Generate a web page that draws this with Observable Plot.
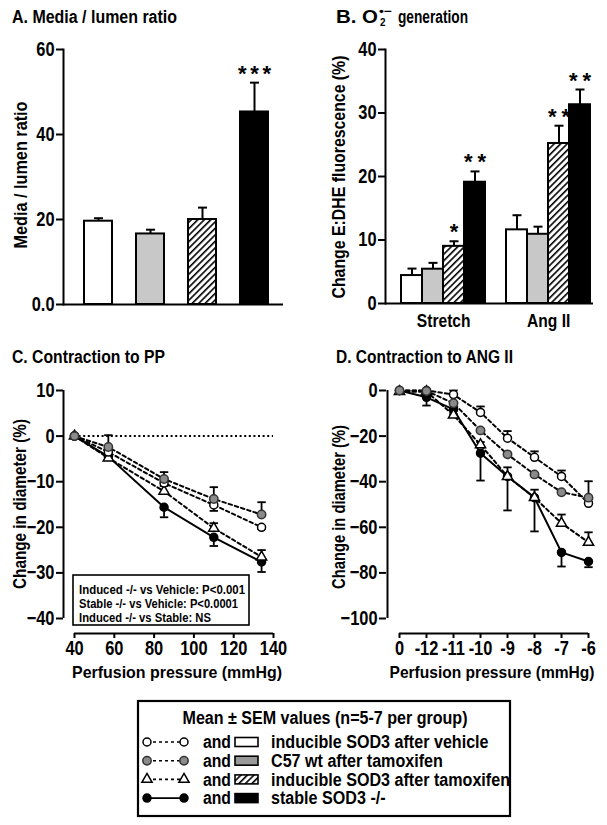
<!DOCTYPE html>
<html><head><meta charset="utf-8">
<script src="https://cdn.jsdelivr.net/npm/d3@7"></script>
<script src="https://cdn.jsdelivr.net/npm/@observablehq/plot@0.6"></script>
<style>
body{margin:0;background:#fff;}
#wrap{position:relative;width:607px;height:825px;overflow:hidden;font-family:"Liberation Sans",Arial,sans-serif;font-weight:bold;color:#000;}
</style>
</head><body>
<div id="wrap">
<svg width="0" height="0" style="position:absolute">
 <defs>
  <pattern id="hatch" patternUnits="userSpaceOnUse" width="4.6" height="4.6" patternTransform="rotate(45)">
   <rect width="4.6" height="4.6" fill="#fff"/>
   <line x1="0" y1="0" x2="0" y2="4.6" stroke="#000" stroke-width="3.2"/>
  </pattern>
 </defs>
</svg>
</div>
<script>
// ---------- data ----------
const groupKeys = ["vehicle", "wt", "induced", "stable"];
const groupLabels = ["inducible SOD3 after vehicle", "C57 wt after tamoxifen", "inducible SOD3 after tamoxifen", "stable SOD3 -/-"];
const legendTitle = "Mean \u00b1 SEM values (n=5-7 per group)";
const statsLines = ["Induced -/- vs Vehicle: P<0.001", "Stable -/- vs Vehicle: P<0.0001", "Induced -/- vs Stable: NS"];

// Panel A: media / lumen ratio
const mlMean = [19.6, 16.6, 20.0, 45.3];
const mlSem = [0.7, 1.0, 2.8, 6.9];
const mlStars = ["", "", "", "***"];
const mlTicks = [0, 20, 40, 60];

// Panel B: O2- generation
const o2Stimuli = ["Stretch", "Ang II"];
const o2StretchMean = [4.4, 5.4, 9.0, 19.1];
const o2StretchSem = [1.1, 1.0, 0.8, 1.7];
const o2StretchStars = ["", "", "*", "**"];
const o2AngMean = [11.6, 10.9, 25.2, 31.3];
const o2AngSem = [2.3, 1.2, 2.8, 2.4];
const o2AngStars = ["", "", "**", "**"];
const o2Ticks = [0, 10, 20, 30, 40];

// Panel C: contraction to perfusion pressure
const pp = [40, 57, 85, 110, 134];
const ppVehicle = [0, -3.5, -10.3, -15.1, -20.0];
const ppVehicleSem = [0, 0.5, 0.6, 1.3, 0.4];
const ppWt = [0, -2.4, -9.4, -13.8, -17.2];
const ppWtSem = [0, 2.6, 1.5, 2.6, 2.7];
const ppInduced = [0, -4.8, -12.1, -20.2, -26.5];
const ppInducedSem = [0, 0.5, 1.2, 1.1, 1.5];
const ppStable = [0, -4.5, -15.6, -22.2, -27.6];
const ppStableSem = [0, 0.5, 2.2, 1.9, 2.2];
const ppTicksX = [40, 60, 80, 100, 120, 140];
const ppTicksY = [10, 0, -10, -20, -30, -40];

// Panel D: contraction to Ang II
const angDoses = ["0", "-12", "-11", "-10", "-9", "-8", "-7", "-6"];
const angVehicle = [0, 0, -1.8, -9.6, -20.9, -29.3, -37.7, -49.5];
const angVehicleSem = [0, 0, 1.8, 2.6, 3.1, 2.6, 2.6, 0.5];
const angWt = [0, -0.2, -5.6, -17.5, -28.0, -36.8, -44.6, -47.0];
const angWtSem = [0, 0, 0.5, 0.5, 0.5, 0.5, 0.5, 7.2];
const angInduced = [-0.5, -0.5, -10.8, -23.8, -37.7, -47.0, -58.2, -66.6];
const angInducedSem = [0, 0, 0.5, 1.2, 4.0, 3.5, 3.8, 4.4];
const angStable = [0, -3.0, -8.3, -27.5, -37.7, -47.0, -71.0, -75.0];
const angStableSem = [0, 3.6, 0.5, 12.0, 14.9, 14.8, 6.2, 2.5];
const angTicksY = [0, -20, -40, -60, -80, -100];

// ---------- styles ----------
const FONT = '"Liberation Sans",Arial,sans-serif';
const barFill = {vehicle: "#ffffff", wt: "#c8c8c8", induced: "url(#hatch)", stable: "#000000"};
const swatchFill = {vehicle: "#ffffff", wt: "#999999", induced: "url(#hatch)", stable: "#000000"};
const dotFill = {vehicle: "#ffffff", wt: "#8a8a8a", induced: "#ffffff", stable: "#000000"};
const dotStroke = {vehicle: "#000", wt: "#333", induced: "#000", stable: "#000"};
const dotSymbol = {vehicle: "circle", wt: "circle", induced: "triangle", stable: "circle"};
const dotR = {vehicle: 4, wt: 4.2, induced: 3.8, stable: 4};
const dashed = {vehicle: "3.5,3", wt: "3.5,3", induced: "3.5,3", stable: null};
const drawOrder = ["stable", "induced", "vehicle", "wt"];
const capSymbol = {draw(ctx, size) { const w = Math.sqrt(size / Math.PI); ctx.moveTo(-w, 0); ctx.lineTo(w, 0); }};

function rootStyle() {
  return {fontFamily: FONT, fontWeight: "bold", fontSize: "20px", color: "#000", background: "transparent", overflow: "visible"};
}
const wrap = document.getElementById("wrap");
function condense(svg, factor) {
  svg.querySelectorAll("text").forEach(t => {
    const s = t.textContent;
    if (!s) return;
    if (/^\*+$/.test(s)) {
      t.setAttribute("textLength", s.length * 11); t.setAttribute("lengthAdjust", "spacing"); return;
    }
    const w = t.getComputedTextLength();
    t.setAttribute("textLength", w * factor); t.setAttribute("lengthAdjust", "spacingAndGlyphs");
  });
}
function place(svg, left, top) {
  svg.style.position = "absolute"; svg.style.left = left + "px"; svg.style.top = top + "px";
  wrap.appendChild(svg);
  condense(svg, 0.82);
}

// ---------- Panel A ----------
const aData = groupKeys.map((k, i) => ({key: k, mean: mlMean[i], sem: mlSem[i], star: mlStars[i]}));
const plotA = Plot.plot({
  width: 300, height: 340,
  marginLeft: 63, marginRight: 17, marginTop: 49, marginBottom: 36,
  style: rootStyle(),
  color: {type: "identity"},
  x: {type: "band", domain: groupKeys, insetLeft: 9, insetRight: 3, paddingInner: 0.46, paddingOuter: 0.23, axis: null},
  y: {domain: [0, 60], axis: null},
  marks: [
    Plot.frame({anchor: "left", strokeWidth: 2}),
    Plot.axisY({ticks: mlTicks, tickFormat: d => d === 0 ? "0.0" : String(d), tickSize: 7, tickPadding: 2, strokeWidth: 2, label: null}),
    Plot.ruleX(aData, {x: "key", y1: "mean", y2: d => d.mean + d.sem, strokeWidth: 2}),
    Plot.dot(aData, {x: "key", y: d => d.mean + d.sem, symbol: capSymbol, r: 4.5, stroke: "#000", strokeWidth: 2}),
    Plot.barY(aData, {x: "key", y: "mean", fill: d => barFill[d.key], stroke: "#000", strokeWidth: 2}),
    Plot.ruleY([0], {strokeWidth: 2}),
    Plot.text(aData.filter(d => d.star), {x: "key", y: d => d.mean + d.sem, text: "star", dy: -9, fontSize: 22, fill: "#000"})
  ]
});
place(plotA, 0, 0);

// ---------- Panel B ----------
const bDomain = [...groupKeys.map(k => o2Stimuli[0] + "|" + k), "gap", ...groupKeys.map(k => o2Stimuli[1] + "|" + k)];
const bData = [];
groupKeys.forEach((k, i) => bData.push({stim: o2Stimuli[0], key: k, slot: o2Stimuli[0] + "|" + k, mean: o2StretchMean[i], sem: o2StretchSem[i], star: o2StretchStars[i]}));
groupKeys.forEach((k, i) => bData.push({stim: o2Stimuli[1], key: k, slot: o2Stimuli[1] + "|" + k, mean: o2AngMean[i], sem: o2AngSem[i], star: o2AngStars[i]}));
const bBand = (291 - 99) / bDomain.length;
const plotB = Plot.plot({
  width: 307, height: 340,
  marginLeft: 85, marginRight: 14, marginTop: 49, marginBottom: 37,
  style: rootStyle(),
  color: {type: "identity"},
  x: {type: "band", domain: bDomain, insetLeft: 14, insetRight: 2, padding: 0, axis: null},
  y: {domain: [0, 40], axis: null},
  marks: [
    Plot.frame({anchor: "left", strokeWidth: 2}),
    Plot.axisY({ticks: o2Ticks, tickSize: 7, tickPadding: 2, strokeWidth: 2, label: null}),
    Plot.ruleX(bData, {x: "slot", y1: "mean", y2: d => d.mean + d.sem, strokeWidth: 2}),
    Plot.dot(bData, {x: "slot", y: d => d.mean + d.sem, symbol: capSymbol, r: 4.5, stroke: "#000", strokeWidth: 2}),
    Plot.barY(bData, {x: "slot", y: "mean", fill: d => barFill[d.key], stroke: "#000", strokeWidth: 2}),
    Plot.ruleY([0], {strokeWidth: 2}),
    Plot.text(bData.filter(d => d.star), {x: "slot", y: d => d.mean + d.sem, text: "star", dy: -9, fontSize: 22, fill: "#000"}),
    Plot.text(o2Stimuli, {x: d => d + "|" + groupKeys[1], y: () => 0, text: d => d, dx: bBand / 2, dy: 17, fontSize: 19, fill: "#000"})
  ]
});
place(plotB, 300, 0);

// ---------- helper for line panels ----------
function seriesRows(xs, series) {
  const rows = [];
  for (const s of series) s.vals.forEach((v, i) => rows.push({key: s.key, x: xs[i], y: v, sem: s.sem[i], dir: s.dir}));
  return rows;
}
function seriesMarks(rows) {
  const marks = [];
  for (const k of drawOrder) {
    const r = rows.filter(d => d.key === k);
    marks.push(Plot.ruleX(r, {x: "x", y1: "y", y2: d => d.y + d.dir * d.sem, strokeWidth: 1.8}));
    marks.push(Plot.dot(r.filter(d => d.sem > 0), {x: "x", y: d => d.y + d.dir * d.sem, symbol: capSymbol, r: 4.2, stroke: "#000", strokeWidth: 1.8}));
  }
  for (const k of drawOrder) {
    const r = rows.filter(d => d.key === k);
    marks.push(Plot.line(r, {x: "x", y: "y", stroke: "#000", strokeWidth: 2, strokeDasharray: dashed[k] || undefined}));
  }
  for (const k of drawOrder) {
    const r = rows.filter(d => d.key === k);
    marks.push(Plot.dot(r, {x: "x", y: "y", symbol: dotSymbol[k], r: dotR[k], fill: dotFill[k], stroke: dotStroke[k], strokeWidth: 1.5}));
  }
  return marks;
}

// ---------- Panel C ----------
const cRows = seriesRows(pp, [
  {key: "vehicle", vals: ppVehicle, sem: ppVehicleSem, dir: -1},
  {key: "wt", vals: ppWt, sem: ppWtSem, dir: 1},
  {key: "induced", vals: ppInduced, sem: ppInducedSem, dir: 1},
  {key: "stable", vals: ppStable, sem: ppStableSem, dir: -1}
]);
const plotC = Plot.plot({
  width: 300, height: 350,
  marginLeft: 63, marginRight: 27, marginTop: 50, marginBottom: 57,
  style: rootStyle(),
  x: {domain: [40, 140], insetLeft: 11, axis: null},
  y: {domain: [-40, 10], insetBottom: 15, axis: null},
  marks: [
    Plot.ruleX([pp[0]], {y1: ppTicksY[ppTicksY.length - 1], y2: ppTicksY[0], dx: -11, strokeWidth: 2}),
    Plot.axisY({ticks: ppTicksY, tickSize: 7, tickPadding: 2, strokeWidth: 2, label: null}),
    Plot.ruleY([ppTicksY[ppTicksY.length - 1]], {x1: ppTicksX[0], x2: ppTicksX[ppTicksX.length - 1], dy: 15, strokeWidth: 2}),
    Plot.axisX({ticks: ppTicksX, tickSize: 5, tickPadding: 2, strokeWidth: 2, label: null}),
    Plot.ruleY([0], {x1: ppTicksX[0], x2: ppTicksX[ppTicksX.length - 1], strokeWidth: 2, strokeDasharray: "2,2.6"}),
    ...seriesMarks(cRows)
  ]
});
place(plotC, 0, 340);

// ---------- Panel D ----------
const dRows = seriesRows(angDoses, [
  {key: "vehicle", vals: angVehicle, sem: angVehicleSem, dir: 1},
  {key: "wt", vals: angWt, sem: angWtSem, dir: 1},
  {key: "induced", vals: angInduced, sem: angInducedSem, dir: 1},
  {key: "stable", vals: angStable, sem: angStableSem, dir: -1}
]);
const plotD = Plot.plot({
  width: 307, height: 350,
  marginLeft: 86, marginRight: 18, marginTop: 50, marginBottom: 57,
  style: rootStyle(),
  x: {type: "point", domain: angDoses, padding: 0, insetLeft: 12, axis: null},
  y: {domain: [-100, 0], insetBottom: 15, axis: null},
  marks: [
    Plot.ruleX([angDoses[0]], {y1: angTicksY[angTicksY.length - 1], y2: angTicksY[0], dx: -12, strokeWidth: 2}),
    Plot.axisY({ticks: angTicksY, tickSize: 7, tickPadding: 2, strokeWidth: 2, label: null}),
    Plot.ruleY([angTicksY[angTicksY.length - 1]], {x1: () => angDoses[0], x2: () => angDoses[angDoses.length - 1], dy: 15, strokeWidth: 2}),
    Plot.axisX({tickSize: 5, tickPadding: 2, strokeWidth: 2, label: null}),
    ...seriesMarks(dRows)
  ]
});
place(plotD, 300, 340);

// ---------- overlay: titles, axis labels, stats box, legend ----------
const ov = d3.select(wrap).append("svg").attr("width", 607).attr("height", 825)
  .style("position", "absolute").style("left", "0px").style("top", "0px")
  .style("font-family", FONT).style("font-weight", "bold");
function label(t) {
  const el = ov.append("text").attr("font-size", t.size || 19).attr("text-anchor", t.anchor || "start")
    .attr("dy", "0.35em").attr("fill", "#000")
    .attr("transform", `translate(${t.x},${t.y})${t.rotate ? ` rotate(${t.rotate})` : ""}`).text(t.text);
  const w = el.node().getComputedTextLength();
  el.attr("textLength", t.width != null ? t.width : w * (t.factor || 0.85)).attr("lengthAdjust", "spacingAndGlyphs");
  return el;
}
// titles
label({text: "A. Media / lumen ratio", x: 12, y: 17, size: 18, width: 165});
label({text: "B. O", x: 336, y: 17, size: 18, width: 42});
label({text: "2", x: 380, y: 22, size: 11, factor: 0.9});
label({text: "\u2022\u2212", x: 379, y: 11, size: 11, width: 13});
label({text: "generation", x: 398, y: 17, size: 18, width: 70});
label({text: "C. Contraction to PP", x: 12, y: 357, size: 18, width: 153});
label({text: "D. Contraction to ANG II", x: 336, y: 357, size: 18, width: 177});
// axis labels
label({text: "Media / lumen ratio", x: 20, y: 175, rotate: -90, anchor: "middle", width: 147});
label({text: "Change E:DHE fluorescence (%)", x: 338, y: 177, rotate: -90, anchor: "middle", width: 243});
label({text: "Change in diameter (%)", x: 19, y: 504, rotate: -90, anchor: "middle", width: 170});
label({text: "Change in diameter (%)", x: 338, y: 507, rotate: -90, anchor: "middle", width: 164});
label({text: "Perfusion pressure (mmHg)", x: 177, y: 672, size: 16.5, anchor: "middle", width: 210});
label({text: "Perfusion pressure (mmHg)", x: 492, y: 672, size: 16.5, anchor: "middle", width: 205});
// stats box (panel C)
ov.append("rect").attr("x", 73).attr("y", 575).attr("width", 176).attr("height", 50)
  .attr("fill", "#fff").attr("stroke", "#000").attr("stroke-width", 1.6);
const statsW = [166, 159, 132];
statsLines.forEach((s, i) => label({text: s, x: 79, y: 590 + i * 14, size: 12.5, width: statsW[i]}));

// legend
ov.append("rect").attr("x", 138).attr("y", 701).attr("width", 372).attr("height", 115)
  .attr("fill", "none").attr("stroke", "#000").attr("stroke-width", 2.2);
label({text: legendTitle, x: 325, y: 718, size: 18, anchor: "middle", width: 285});
groupKeys.forEach((k, i) => {
  const y = 742 + i * 18.7;
  ov.append("line").attr("x1", 147).attr("x2", 184).attr("y1", y).attr("y2", y)
    .attr("stroke", "#000").attr("stroke-width", 1.6).attr("stroke-dasharray", dashed[k] ? "3,3" : null);
  for (const cx of [147, 184]) {
    if (dotSymbol[k] === "triangle") {
      ov.append("path").attr("d", d3.symbol(d3.symbolTriangle, Math.PI * dotR[k] * dotR[k])()).attr("transform", `translate(${cx},${y})`)
        .attr("fill", dotFill[k]).attr("stroke", dotStroke[k]).attr("stroke-width", 1.5);
    } else {
      ov.append("circle").attr("cx", cx).attr("cy", y).attr("r", dotR[k])
        .attr("fill", dotFill[k]).attr("stroke", dotStroke[k]).attr("stroke-width", 1.5);
    }
  }
  label({text: "and", x: 203, y: y, size: 18, width: 28});
  ov.append("rect").attr("x", 235).attr("y", y - 4.5).attr("width", 23).attr("height", 9)
    .attr("fill", swatchFill[k]).attr("stroke", "#000").attr("stroke-width", 1.6);
  label({text: groupLabels[i], x: 271, y: y, size: 18, factor: 0.895});
});
</script>
</body></html>
